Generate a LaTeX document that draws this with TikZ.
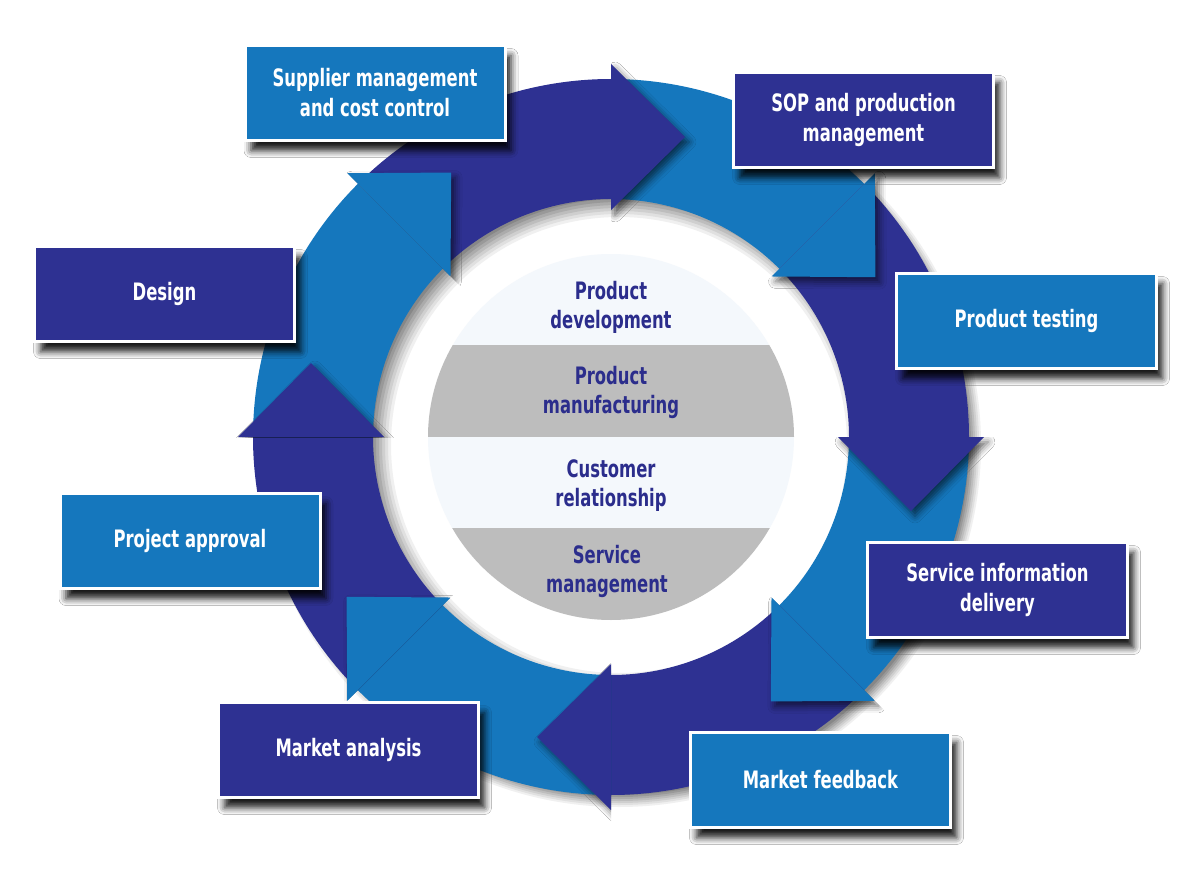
\documentclass[tikz,border=0pt]{standalone}
\usepackage{fontspec}
\setmainfont{DejaVu Sans Condensed Bold}[FakeStretch=0.76]
\usetikzlibrary{calc,shadows.blur}
\definecolor{navy}{HTML}{2E3192}
\definecolor{mblue}{HTML}{1577BD}
\definecolor{txtnavy}{HTML}{2B2D8C}
\definecolor{bandgray}{HTML}{BDBDBD}
\definecolor{bandlight}{HTML}{F4F8FC}
\tikzset{
  box/.style={draw=white, line width=3pt, minimum width=260pt, minimum height=95pt,
    inner sep=0pt, text=white, align=center, font=\fontsize{24}{30}\selectfont,
    blur shadow={shadow xshift=6pt, shadow yshift=-10pt, shadow blur radius=7pt, shadow opacity=90}},
  darkbox/.style={box, fill=navy},
  bluebox/.style={box, fill=mblue},
  disctext/.style={text=txtnavy, align=center, font=\fontsize{24}{29}\selectfont, inner sep=0pt},
  headshadow/.style={blur shadow={shadow xshift=4pt, shadow yshift=-5pt, shadow blur radius=7pt, shadow opacity=60}}
}
\begin{document}
\begin{tikzpicture}[x=1pt,y=1pt]
\fill[white] (0,0) rectangle (1200,-880);
\useasboundingbox (0,0) rectangle (1200,-880);
\coordinate (C) at (611,-437);
\coordinate (CS) at (619,-445);
% ring shadow: grey rings stroked around the shifted centre, lighter and wider first
\foreach \r/\w/\s in {295/134/6,295.5/129/12,296/124/19,296.5/119/26,297/114/33,297.5/109/40,298/104/47} {
  \draw[draw=black!\s!white, line width=\w pt] (CS) circle[radius=\r pt];
}
% ring bodies
\foreach \a/\col in {90/navy,45/mblue,0/navy,-45/mblue,-90/navy,-135/mblue,180/navy,135/mblue} {
  \fill[\col] ($(C)+(\a+45:358)$) arc[start angle=\a+45, end angle=\a, radius=358]
     -- ($(C)+(\a:238)$) arc[start angle=\a, end angle=\a+45, radius=238] -- cycle;
}
% arrow heads (shadow only in front of the head base)
\foreach \a/\col in {90/navy,45/mblue,0/navy,-45/mblue,-90/navy,-135/mblue,180/navy,135/mblue} {
  \begin{scope}
    \clip ($(C)+(\a:150)$) -- ($(C)+(\a:460)$) -- ($(C)+(\a:460)+(\a-90:200)$) -- ($(C)+(\a:150)+(\a-90:200)$) -- cycle;
    \fill[\col, headshadow] ($(C)+(\a:227)$) -- ($(C)+(\a:373)$) -- ($(C)+(\a:300)+(\a-90:74)$) -- cycle;
  \end{scope}
}
% inner disc
\begin{scope}
  \clip (C) circle[radius=183];
  \fill[bandlight] (400,-250) rectangle (830,-345);
  \fill[bandgray] (400,-345) rectangle (830,-437);
  \fill[bandlight] (400,-437) rectangle (830,-528);
  \fill[bandgray] (400,-528) rectangle (830,-625);
\end{scope}
\node[disctext] (pd) at (611,-307) {Product\\development};
\node[disctext] (pm) at (611,-392) {Product\\manufacturing};
\node[disctext] (cr) at (611,-486) {Customer\\relationship};
\node[disctext] (sm) at (607,-571) {Service\\management};
% boxes
\node[bluebox] (sup) at (375,-93) {Supplier management\\and cost control};
\node[darkbox] (sop) at (863.5,-120) {SOP and production\\management};
\node[bluebox] (pt) at (1026.5,-321) {Product testing};
\node[darkbox] (des) at (164.5,-294) {Design};
\node[bluebox] (pa) at (190,-541) {Project approval};
\node[darkbox] (ma) at (348.5,-750) {Market analysis};
\node[darkbox] (sid) at (997.5,-590) {Service information\\delivery};
\node[bluebox] (mf) at (820.5,-780) {Market feedback};
\end{tikzpicture}
\end{document}
